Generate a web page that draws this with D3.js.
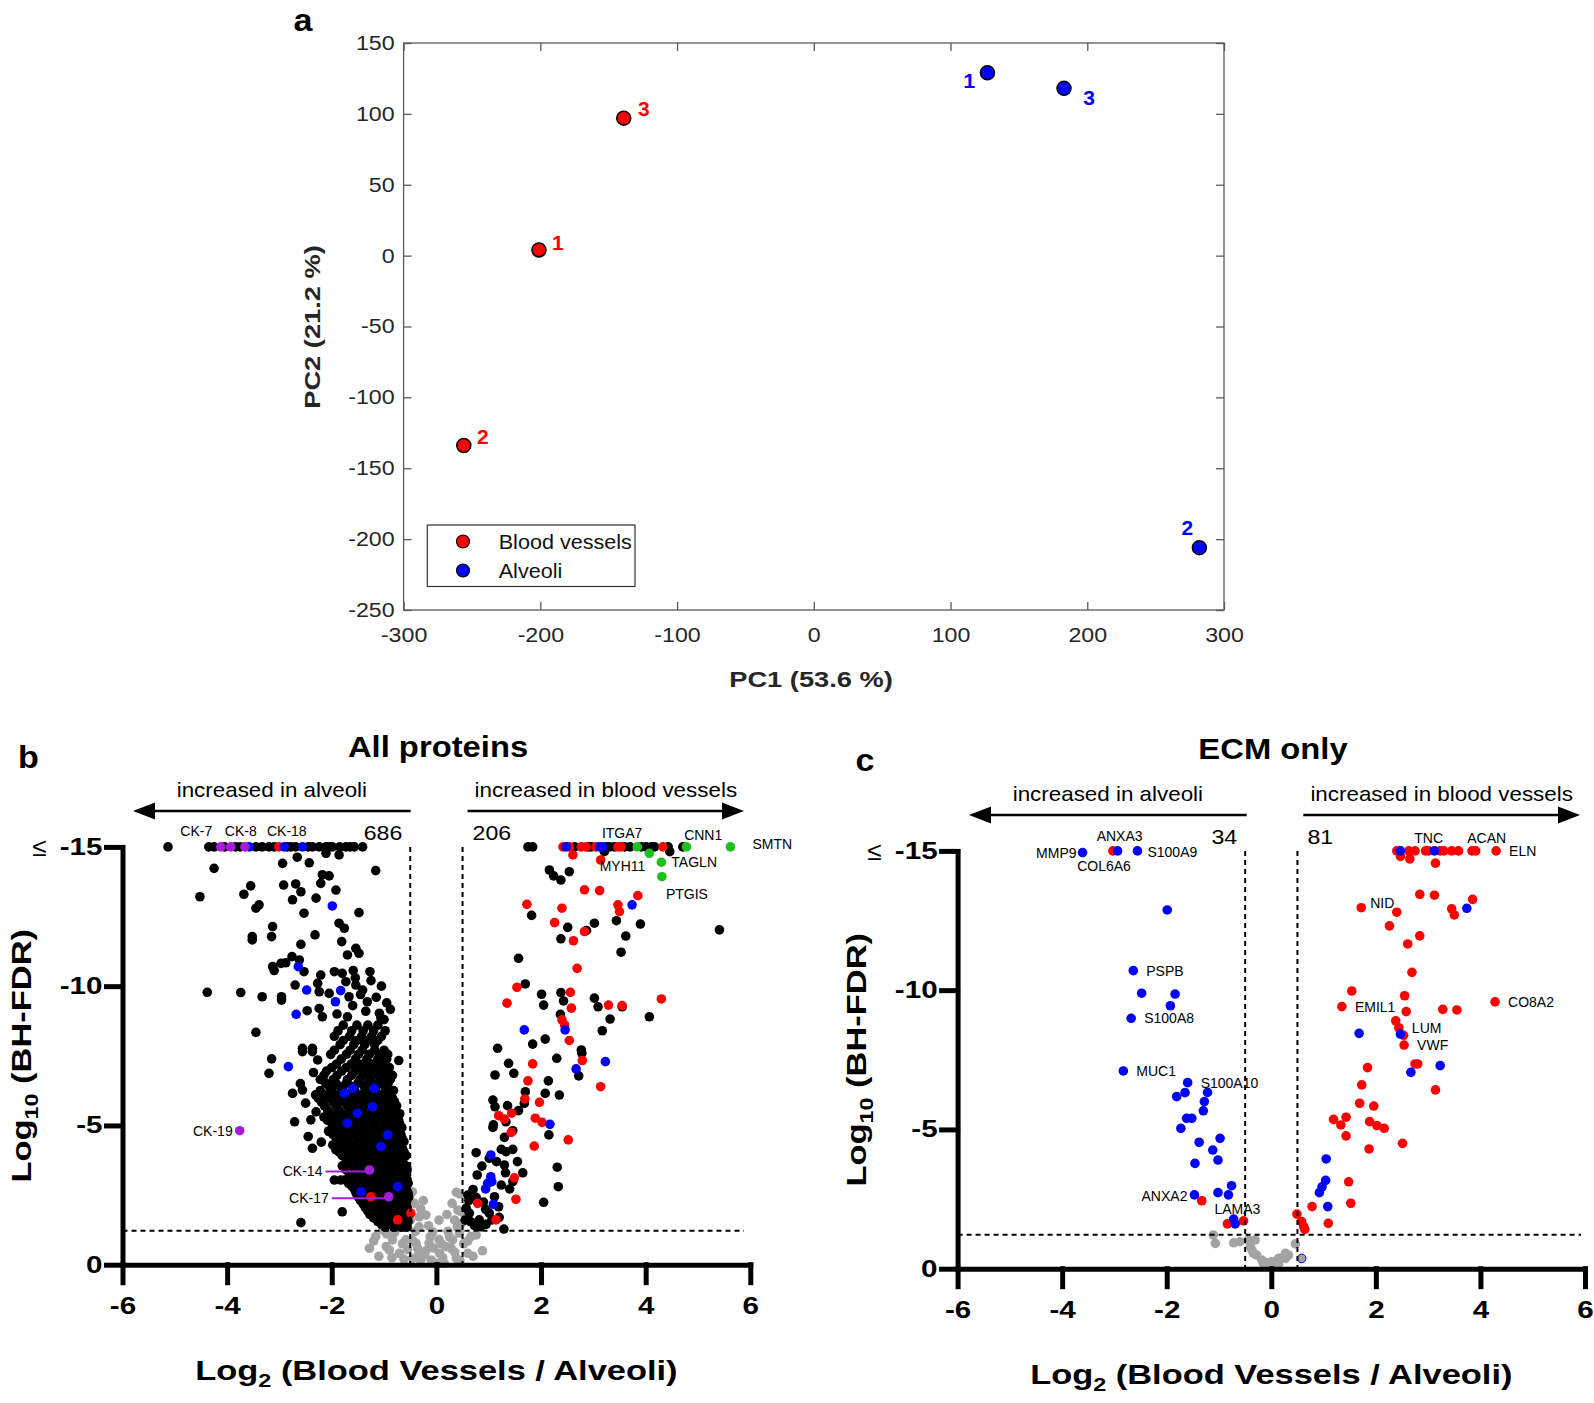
<!DOCTYPE html>
<html>
<head>
<meta charset="utf-8">
<script src="https://cdn.jsdelivr.net/npm/d3@7"></script>
<style>
  body { margin: 0; background: #fff; }
  svg { display: block; font-family: "Liberation Sans", Arial, sans-serif; }
</style>
</head>
<body>
<script>
// ---------- panel a : PCA ----------
const pcaGroup = ["Blood vessels", "Blood vessels", "Blood vessels", "Alveoli", "Alveoli", "Alveoli"];
const pcaName = ["1", "2", "3", "1", "2", "3"];
const pc1 = [-201, -256, -139, 127, 282, 183];
const pc2 = [4, -134, 97, 129, -206, 118];
const pcaXTicks = [-300, -200, -100, 0, 100, 200, 300];
const pcaYTicks = [150, 100, 50, 0, -50, -100, -150, -200, -250];

// ---------- panel b : all proteins (log2 ratio, log10 FDR) ----------
const bGray = [
  [0.44,-2.54],[0.41,-1.96],[0.47,-1.46],[0.44,-1.13],[0.66,-1.01],[0.60,-0.41],[0.31,-0.89],[0.18,-0.65],
  [0.06,-0.41],[-0.10,-0.17],[-0.01,-0.05],[-0.23,-0.35],[-0.36,-0.59],[-0.46,-0.89],[-0.58,-1.36],[-0.49,-2.56],
  [-0.33,-1.72],[-0.20,-1.78],[0.28,-0.59],[0.38,-0.23],[0.76,-1.07],[-0.46,-2.62],[-0.33,-1.36],[-0.07,-1.18],
  [-1.16,-1.01],[-1.28,-0.59],[-0.96,-0.65],[-0.71,-0.41],[-0.58,-0.89],[-0.84,-0.89],[-0.39,-0.77],[-0.14,-0.77],
  [-0.46,-0.23],[-1.03,-1.25],[-0.71,-1.36],[-0.90,-0.53],[-0.33,-0.41],[-0.52,-1.85],[-0.68,-2.08],[0.12,-0.25],
  [0.22,-1.20],[0.35,-1.60],[0.52,-0.75],[-0.12,-1.00],[-0.62,-0.20],[-0.80,-1.15],[0.05,-0.90],[0.30,-2.20],
  [-0.25,-2.30],[0.15,-0.05],[-0.05,-0.60],[0.48,-1.90],[-1.10,-0.30],[0.88,-0.50],[-0.55,-0.55],
  [-0.30,-0.15],[-0.20,-0.50],[0.10,-0.75],[0.25,-1.00],[0.35,-0.45],[-0.40,-1.20],[-0.15,-1.40],[0.40,-1.35],
  [-0.85,-0.25],[-0.65,-0.75],[0.60,-0.85],[-1.20,-0.85],[0.70,-0.30],[-0.50,-1.60],[0.45,-0.15],[-0.95,-1.10],
  [0.05,-1.60],[-0.30,-2.00],[0.20,-1.80],[0.38,-2.60],[-0.42,-2.20]
];
const bBlack = [
  [-5.13,-15],[-4.35,-15],[-4.25,-15],[-4.05,-15],[-3.84,-15],[-3.75,-15],[-3.45,-15],[-3.33,-15],[-3.20,-15],
  [-3.10,-15],[-2.85,-15],[-2.78,-15],[-2.69,-15],[-2.45,-15],[-2.37,-15],[-2.24,-15],[-2.11,-15],[-2.05,-15],
  [-1.99,-15],[-1.85,-15],[-1.73,-15],[-1.65,-15],[-1.57,-15],[-1.41,-15],
  [-2.94,-14.41],[-2.66,-14.63],[-2.43,-14.43],[-2.11,-14.77],[-1.86,-14.71],[-4.25,-14.23],[-1.16,-14.15],
  [-2.18,-14.00],[-2.05,-13.96],[-2.21,-13.69],[-3.55,-13.60],[-2.92,-13.63],[-2.69,-13.67],[-2.59,-13.39],
  [-1.92,-13.45],[-3.68,-13.30],[-4.52,-13.21],[-2.75,-13.10],[-2.30,-13.16],[-3.39,-12.92],[-3.45,-12.80],
  [-2.53,-12.62],[-1.48,-12.64],[-3.13,-12.14],[-1.86,-12.26],[-1.76,-12.08],[-3.52,-11.78],[-3.52,-11.66],
  [-3.15,-11.78],[-2.32,-11.84],[-2.59,-11.50],[-1.81,-11.60],[-1.54,-11.36],[-1.70,-11.12],[-1.48,-11.18],
  [-2.76,-11.06],[-2.62,-10.94],[-3.13,-10.70],[-3.10,-10.56],[-2.97,-10.82],[-2.88,-10.84],[-2.53,-10.52],
  [-2.21,-10.40],[-1.95,-10.52],[-1.80,-10.46],[-1.59,-10.56],[-1.27,-10.52],[-2.70,-10.04],[-2.27,-10.10],
  [-2.24,-9.80],[-2.05,-9.74],[-1.73,-10.16],[-1.54,-10.04],[-1.67,-9.62],[-1.41,-9.86],[-1.32,-9.44],
  [-4.38,-9.78],[-3.74,-9.77],[-3.33,-9.62],[-2.96,-9.62],[-2.96,-9.50],[-2.47,-9.12],[-2.24,-9.20],[-2.18,-8.90],
  [-0.88,-9.17],[-1.09,-9.03],[-1.06,-8.85],[-3.45,-8.34],[-2.56,-7.77],[-2.37,-7.77],
  [-1.60,-9.30],[-1.35,-9.10],[-1.15,-9.60],[-1.90,-9.00],[-1.00,-8.80],[-1.70,-8.90],[-1.45,-9.70],[-1.25,-10.20],
  [-1.05,-10.00],[-1.55,-10.30],[-0.95,-9.40],
  [-3.15,-7.39],[-3.20,-6.87],[-2.56,-7.65],[-2.37,-7.65],[-2.27,-7.35],[-0.72,-7.33],[-2.75,-6.15],[-2.56,-6.27],
  [-2.30,-5.49],[-2.71,-5.13],[-2.37,-4.18],[-2.59,-1.51],[-1.95,-3.04],[-1.83,-3.04],[-1.80,-1.90],[-2.05,-4.78],
  [-1.92,-4.12],[-1.73,-3.94],
  [-2.40,-5.20],[-2.45,-4.60],[-2.50,-5.80],[-2.60,-6.50],[-2.35,-6.90],[-2.20,-4.40],
  [-1.78,-8.60],[-1.52,-8.60],[-1.31,-8.60],[-1.12,-8.60],
  [-1.88,-8.40],[-1.62,-8.40],[-1.40,-8.40],[-1.20,-8.40],[-0.98,-8.40],
  [-1.95,-8.20],[-1.66,-8.20],[-1.43,-8.20],[-1.24,-8.20],[-1.05,-8.20],
  [-1.78,-8.05],[-1.52,-8.05],[-1.32,-8.05],[-1.12,-8.05],
  [-1.84,-7.90],[-1.58,-7.90],[-1.37,-7.90],[-1.18,-7.90],
  [-1.95,-7.70],[-1.65,-7.70],[-1.42,-7.70],[-1.18,-7.70],[-1.00,-7.70],
  [-2.02,-7.55],[-1.72,-7.55],[-1.49,-7.55],[-1.28,-7.55],[-1.09,-7.55],[-0.93,-7.55],
  [-1.82,-7.38],[-1.55,-7.38],[-1.33,-7.38],[-1.12,-7.38],[-0.95,-7.38],
  [-1.91,-7.20],[-1.63,-7.20],[-1.41,-7.20],[-1.22,-7.20],[-1.03,-7.20],
  [-2.00,-7.08],[-1.72,-7.08],[-1.48,-7.08],[-1.28,-7.08],[-1.08,-7.08],[-0.90,-7.08],
  [-2.10,-6.95],[-1.81,-6.95],[-1.55,-6.95],[-1.33,-6.95],[-1.14,-6.95],[-0.97,-6.95],
  [-2.15,-6.80],[-1.90,-6.80],[-1.62,-6.80],[-1.40,-6.80],[-1.20,-6.80],[-1.00,-6.80],[-0.84,-6.80],
  [-2.22,-6.65],[-1.97,-6.65],[-1.70,-6.65],[-1.46,-6.65],[-1.26,-6.65],[-1.06,-6.65],[-0.88,-6.65],
  [-2.12,-6.52],[-1.92,-6.52],[-1.72,-6.52],[-1.50,-6.52],[-1.30,-6.52],[-1.10,-6.52],[-0.92,-6.52],
  [-2.05,-6.40],[-1.84,-6.40],[-1.60,-6.40],[-1.38,-6.40],[-1.17,-6.40],[-0.99,-6.40],
  [-2.22,-6.25],[-2.00,-6.25],[-1.78,-6.25],[-1.56,-6.25],[-1.36,-6.25],[-1.16,-6.25],[-0.96,-6.25],[-0.82,-6.25],
  [-2.31,-6.10],[-2.12,-6.10],[-1.90,-6.10],[-1.68,-6.10],[-1.47,-6.10],[-1.27,-6.10],[-1.08,-6.10],[-0.90,-6.10],
  [-2.26,-5.98],[-2.05,-5.98],[-1.85,-5.98],[-1.62,-5.98],[-1.42,-5.98],[-1.20,-5.98],[-1.00,-5.98],[-0.84,-5.98],
  [-2.20,-5.85],[-1.98,-5.85],[-1.77,-5.85],[-1.55,-5.85],[-1.35,-5.85],[-1.15,-5.85],[-0.96,-5.85],[-0.80,-5.85],
  [-2.14,-5.70],[-1.92,-5.70],[-1.70,-5.70],[-1.50,-5.70],[-1.28,-5.70],[-1.08,-5.70],[-0.90,-5.70],[-0.76,-5.70],
  [-2.08,-5.55],[-1.86,-5.55],[-1.64,-5.55],[-1.43,-5.55],[-1.22,-5.55],[-1.03,-5.55],[-0.86,-5.55],
  [-2.02,-5.42],[-1.80,-5.42],[-1.60,-5.42],[-1.38,-5.42],[-1.18,-5.42],[-0.98,-5.42],[-0.82,-5.42],[-0.70,-5.42],
  [-2.15,-5.30],[-1.93,-5.30],[-1.72,-5.30],[-1.51,-5.30],[-1.30,-5.30],[-1.11,-5.30],[-0.92,-5.30],[-0.76,-5.30],
  [-2.08,-5.18],[-1.86,-5.18],[-1.66,-5.18],[-1.45,-5.18],[-1.24,-5.18],[-1.05,-5.18],[-0.87,-5.18],[-0.72,-5.18],
  [-1.99,-5.05],[-1.79,-5.05],[-1.58,-5.05],[-1.38,-5.05],[-1.18,-5.05],[-0.99,-5.05],[-0.82,-5.05],[-0.70,-5.05],
  [-1.94,-4.92],[-1.74,-4.92],[-1.54,-4.92],[-1.34,-4.92],[-1.15,-4.92],[-0.96,-4.92],[-0.79,-4.92],[-0.66,-4.92],
  [-2.06,-4.80],[-1.85,-4.80],[-1.65,-4.80],[-1.45,-4.80],[-1.25,-4.80],[-1.06,-4.80],[-0.88,-4.80],[-0.72,-4.80],
  [-1.98,-4.68],[-1.78,-4.68],[-1.58,-4.68],[-1.38,-4.68],[-1.18,-4.68],[-1.00,-4.68],[-0.83,-4.68],[-0.68,-4.68],
  [-1.92,-4.55],[-1.72,-4.55],[-1.52,-4.55],[-1.32,-4.55],[-1.13,-4.55],[-0.95,-4.55],[-0.78,-4.55],[-0.66,-4.55],
  [-1.88,-4.42],[-1.68,-4.42],[-1.48,-4.42],[-1.28,-4.42],[-1.10,-4.42],[-0.92,-4.42],[-0.75,-4.42],[-0.62,-4.42],
  [-1.98,-4.30],[-1.79,-4.30],[-1.59,-4.30],[-1.40,-4.30],[-1.20,-4.30],[-1.02,-4.30],[-0.85,-4.30],[-0.69,-4.30],
  [-1.92,-4.18],[-1.72,-4.18],[-1.52,-4.18],[-1.33,-4.18],[-1.15,-4.18],[-0.97,-4.18],[-0.80,-4.18],[-0.65,-4.18],
  [-1.86,-4.05],[-1.66,-4.05],[-1.47,-4.05],[-1.27,-4.05],[-1.09,-4.05],[-0.91,-4.05],[-0.75,-4.05],[-0.62,-4.05],
  [-1.80,-3.92],[-1.60,-3.92],[-1.40,-3.92],[-1.21,-3.92],[-1.03,-3.92],[-0.86,-3.92],[-0.70,-3.92],[-0.58,-3.92],
  [-1.73,-3.80],[-1.54,-3.80],[-1.34,-3.80],[-1.16,-3.80],[-0.98,-3.80],[-0.81,-3.80],[-0.66,-3.80],
  [-1.70,-3.68],[-1.50,-3.68],[-1.30,-3.68],[-1.12,-3.68],[-0.94,-3.68],[-0.78,-3.68],[-0.64,-3.68],
  [-1.80,-3.55],[-1.60,-3.55],[-1.41,-3.55],[-1.22,-3.55],[-1.04,-3.55],[-0.87,-3.55],[-0.71,-3.55],[-0.58,-3.55],
  [-1.74,-3.42],[-1.54,-3.42],[-1.35,-3.42],[-1.16,-3.42],[-0.99,-3.42],[-0.82,-3.42],[-0.67,-3.42],[-0.56,-3.42],
  [-1.67,-3.30],[-1.47,-3.30],[-1.29,-3.30],[-1.11,-3.30],[-0.94,-3.30],[-0.77,-3.30],[-0.63,-3.30],
  [-1.62,-3.18],[-1.42,-3.18],[-1.24,-3.18],[-1.06,-3.18],[-0.89,-3.18],[-0.73,-3.18],[-0.60,-3.18],
  [-1.74,-3.05],[-1.54,-3.05],[-1.35,-3.05],[-1.17,-3.05],[-1.00,-3.05],[-0.83,-3.05],[-0.68,-3.05],[-0.56,-3.05],
  [-1.68,-2.92],[-1.48,-2.92],[-1.30,-2.92],[-1.12,-2.92],[-0.95,-2.92],[-0.78,-2.92],[-0.64,-2.92],[-0.54,-2.92],
  [-1.61,-2.80],[-1.42,-2.80],[-1.24,-2.80],[-1.06,-2.80],[-0.89,-2.80],[-0.73,-2.80],[-0.60,-2.80],
  [-1.56,-2.68],[-1.37,-2.68],[-1.19,-2.68],[-1.01,-2.68],[-0.84,-2.68],[-0.69,-2.68],[-0.57,-2.68],
  [-1.53,-2.55],[-1.34,-2.55],[-1.15,-2.55],[-0.97,-2.55],[-0.80,-2.55],[-0.65,-2.55],[-0.54,-2.55],
  [-1.49,-2.42],[-1.30,-2.42],[-1.11,-2.42],[-0.94,-2.42],[-0.77,-2.42],[-0.63,-2.42],[-0.53,-2.42],
  [-1.45,-2.30],[-1.26,-2.30],[-1.07,-2.30],[-0.90,-2.30],[-0.74,-2.30],[-0.60,-2.30],
  [-1.40,-2.18],[-1.21,-2.18],[-1.03,-2.18],[-0.86,-2.18],[-0.71,-2.18],[-0.58,-2.18],
  [-1.36,-2.05],[-1.17,-2.05],[-0.99,-2.05],[-0.83,-2.05],[-0.68,-2.05],[-0.56,-2.05],
  [-1.31,-1.92],[-1.12,-1.92],[-0.95,-1.92],[-0.79,-1.92],[-0.65,-1.92],[-0.54,-1.92],
  [-1.27,-1.80],[-1.08,-1.80],[-0.91,-1.80],[-0.76,-1.80],[-0.62,-1.80],[-0.52,-1.80],
  [-1.20,-1.68],[-1.01,-1.68],[-0.85,-1.68],[-0.70,-1.68],[-0.57,-1.68],
  [-1.12,-1.55],[-0.94,-1.55],[-0.79,-1.55],[-0.65,-1.55],[-0.54,-1.55],
  [-1.05,-1.45],[-0.88,-1.45],[-0.72,-1.45],[-0.60,-1.45],
  [-0.98,-1.35],[-0.82,-1.35],[-0.68,-1.35],[-0.56,-1.35],
  [1.75,-15],[1.84,-15],[2.64,-15],[2.90,-15],[2.96,-15],[3.25,-15],[3.31,-15],[3.40,-15],[3.60,-15],[3.70,-15],
  [3.92,-15],[4.01,-15],[4.11,-15],[4.17,-15],[4.43,-15],[4.71,-15],
  [3.21,-14.83],[4.46,-14.83],[2.16,-14.17],[2.24,-13.96],[2.38,-13.81],[2.54,-14.11],[1.82,-12.54],[2.51,-12.11],
  [3.02,-12.26],[3.44,-12.35],[3.90,-12.23],[2.87,-12.00],[2.38,-11.70],[3.62,-11.80],[5.41,-12.02],[3.53,-11.22],
  [1.57,-11.00],[1.70,-10.08],[2.01,-9.71],[2.38,-9.77],[2.05,-9.32],[2.43,-9.47],[3.02,-9.57],[3.09,-9.26],
  [3.55,-9.26],[2.37,-8.99],[3.32,-8.82],[4.07,-8.90],[3.17,-8.40],[2.08,-8.10],[1.84,-7.92],[1.17,-7.77],[2.77,-7.71],
  [1.38,-7.23],[1.48,-6.87],[1.12,-6.81],[2.30,-7.41],[2.78,-7.59],[2.72,-6.78],[2.14,-6.60],[1.70,-6.21],
  [1.68,-5.79],[2.08,-6.15],[2.35,-6.09],[1.08,-5.91],[1.12,-5.67],[1.36,-5.71],[1.57,-5.53],[1.33,-5.13],
  [1.09,-5.02],[1.08,-4.93],[1.46,-4.81],[2.15,-4.66],[1.30,-4.57],[0.76,-4.02],[1.24,-4.14],[1.33,-4.06],
  [1.46,-4.14],[1.01,-3.82],[0.87,-3.54],[1.15,-3.70],[1.30,-3.58],[1.32,-3.30],[1.55,-3.70],[1.65,-3.30],
  [2.31,-3.50],[0.78,-3.22],[1.24,-2.86],[1.46,-2.98],[1.40,-2.72],[2.33,-2.80],[2.05,-2.24],[0.60,-2.50],
  [0.76,-2.42],[1.11,-2.44],[1.19,-2.08],[0.94,-1.99],[1.01,-1.85],[1.06,-1.61],[0.57,-2.03],[0.63,-1.85],
  [0.66,-1.54],[0.82,-1.61],[0.73,-1.40],[0.85,-1.36],[1.29,-1.28],[0.70,-2.70],[0.90,-2.25],[1.20,-1.70],
  [0.55,-1.60],[0.95,-1.45],[0.62,-2.30]
];
const bRed = [
  [-3.01,-15],[-1.25,-2.44],[-0.74,-1.61],[-0.49,-1.85],
  [2.42,-15],[2.54,-15],[2.77,-15],[2.86,-15],[3.05,-15],[3.47,-15],[3.53,-15],[4.33,-15],[2.61,-14.71],
  [3.14,-14.53],[2.83,-13.46],[3.12,-13.43],[3.85,-13.25],[3.47,-12.92],[3.50,-12.68],[1.73,-12.94],[2.40,-12.80],
  [2.26,-12.28],[2.83,-11.96],[2.62,-11.63],[2.69,-10.64],[1.54,-9.96],[2.56,-9.78],[1.35,-9.39],[2.58,-9.21],
  [3.29,-9.32],[3.55,-9.30],[4.30,-9.54],[2.40,-8.79],[2.45,-8.61],[2.54,-8.05],[1.84,-7.21],[2.79,-7.33],
  [3.14,-6.39],[1.75,-6.60],[1.69,-5.95],[1.97,-5.83],[1.19,-5.35],[1.44,-5.44],[1.30,-5.23],[1.89,-5.26],
  [2.02,-5.11],[1.43,-4.75],[2.52,-4.48],[1.87,-4.26],[1.49,-3.12],[1.52,-2.35],[0.79,-2.20],[1.14,-1.61]
];
const bBlue = [
  [-3.58,-15],[-2.91,-15],[-2.56,-15],[-1.99,-12.88],[-2.64,-10.70],[-2.48,-9.86],[-1.83,-9.84],[-1.93,-9.44],
  [-2.68,-8.99],[-2.83,-7.11],[-1.76,-6.15],[-1.60,-6.33],[-1.19,-6.33],[-1.51,-5.44],[-1.70,-5.08],[-0.93,-4.66],
  [-1.06,-4.24],[-1.44,-2.62],[-1.22,-5.67],[-0.74,-2.80],
  [2.48,-15],[3.12,-15],[3.18,-15],[3.74,-12.92],[1.68,-8.43],[2.46,-8.43],[2.67,-7.03],[3.23,-7.29],[2.17,-5.04],
  [1.04,-3.94],[1.04,-3.16],[1.06,-2.98],[0.98,-2.92],[0.94,-2.72],[1.09,-2.17]
];
const bPurple = [[-4.12,-15],[-3.93,-15],[-3.66,-15],[-3.76,-4.81],[-1.28,-3.40],[-0.91,-2.44]];
const bGreen = [[3.84,-15],[4.78,-15],[5.62,-15],[4.07,-14.77],[4.30,-14.45],[4.31,-13.93]];

// ---------- panel c : ECM only ----------
const cGray = [
  [-1.11,-1.21],[-1.07,-0.91],[-0.72,-0.93],[-0.60,-0.97],[-0.44,-1.03],[-0.37,-0.67],[-0.28,-0.49],[-0.15,-0.19],
  [-0.02,-0.07],[0.14,-0.19],[0.27,-0.37],[0.33,-0.49],[0.46,-0.89],[0.27,-0.55],[0.14,-0.37],[0.01,-0.25],
  [-0.09,-0.22],[-0.18,-0.31],[-0.34,-0.55],[-0.40,-0.79],[-0.31,-1.03]
];
const cGrayOutlined = [[0.58,-0.37]];
const cBlue = [
  [-3.61,-14.94],[-2.94,-15],[-2.56,-15],[-1.99,-12.88],[-2.64,-10.70],[-2.48,-9.89],[-1.84,-9.86],[-1.93,-9.44],
  [-2.68,-8.99],[-2.83,-7.10],[-1.60,-6.68],[-1.65,-6.32],[-1.81,-6.18],[-1.22,-6.33],[-1.28,-6.00],[-1.30,-5.67],
  [-1.62,-5.40],[-1.52,-5.40],[-1.73,-5.04],[-1.38,-4.54],[-0.98,-4.68],[-1.12,-4.26],[-1.02,-3.90],[-1.46,-3.78],
  [-0.76,-2.98],[-1.02,-2.73],[-0.82,-2.65],[-1.47,-2.65],[-0.72,-1.78],[-0.69,-1.61],
  [2.47,-15],[3.12,-15],[3.74,-12.94],[1.68,-8.45],[2.47,-8.42],[2.67,-7.05],[3.23,-7.29],[1.05,-3.94],
  [1.04,-3.17],[0.97,-2.94],[0.92,-2.73],[1.08,-2.23]
];
const cRed = [
  [-3.03,-15],[-1.33,-2.44],[-0.84,-1.61],[-0.53,-1.72],
  [2.40,-15],[2.47,-14.80],[2.63,-15],[2.75,-15],[2.95,-15],[3.01,-15],[3.23,-15],[3.30,-15],[3.45,-15],[3.58,-15],
  [3.84,-15],[3.91,-15],[4.30,-15],[2.65,-14.71],[3.14,-14.56],[2.84,-13.44],[3.12,-13.41],[3.85,-13.26],
  [3.45,-12.92],[3.50,-12.70],[1.72,-12.96],[2.40,-12.80],[2.26,-12.31],[2.84,-11.95],[2.61,-11.66],[2.69,-10.64],
  [1.54,-9.97],[2.55,-9.80],[1.35,-9.41],[2.58,-9.23],[3.28,-9.31],[3.55,-9.29],[4.28,-9.58],[2.38,-8.90],
  [2.44,-8.65],[2.53,-8.38],[2.54,-8.03],[2.75,-7.35],[2.80,-7.35],[3.14,-6.42],[1.84,-7.22],[1.73,-6.60],
  [1.69,-5.94],[1.96,-5.84],[1.19,-5.36],[1.33,-5.16],[1.43,-5.44],[1.43,-4.77],[1.88,-5.28],[2.02,-5.14],
  [2.16,-5.04],[2.51,-4.50],[1.87,-4.30],[1.48,-3.12],[1.52,-2.35],[0.78,-2.23],[1.09,-1.63],[0.49,-1.96],
  [0.58,-1.69],[0.62,-1.51],[0.64,-1.41]
];

const volcanoXTicks = [-6, -4, -2, 0, 2, 4, 6];
const volcanoYTicks = [0, -5, -10, -15];
const fdrCut = -1.22;
const fcCut = 0.5;
const countsB = ["686", "206"];
const countsC = ["34", "81"];

// ---------- drawing ----------
const W = 1594, H = 1403;
const svg = d3.select("body").append("svg").attr("width", W).attr("height", H);

const RED = "#ff0000", BLUE = "#0000ff", GRAY = "#a3a3a3", PURPLE = "#a41ed8", GREEN = "#1fbf1f";

function txt(g, x, y, str, o) {
  o = o || {};
  let tr = `translate(${x},${y})`;
  if (o.rot) tr += ` rotate(${o.rot})`;
  if (o.sx) tr += ` scale(${o.sx},1)`;
  return g.append("text")
    .attr("transform", tr)
    .attr("text-anchor", o.anchor || "middle")
    .attr("font-size", o.size || 14)
    .attr("font-weight", o.bold ? "bold" : null)
    .attr("fill", o.fill || "#000")
    .text(str);
}

function stretchTicks(axisG, sx) {
  axisG.selectAll(".tick text").each(function () {
    const t = d3.select(this);
    const x = +t.attr("x") || 0;
    t.attr("x", 0).attr("transform", `translate(${x},0) scale(${sx},1)`);
  });
}

// ---- panel a ----
const xA = d3.scaleLinear().domain([-300, 300]).range([403.6, 1224]);
const yA = d3.scaleLinear().domain([-250, 150]).range([610, 43]);
const gA = svg.append("g");

const axA = [
  gA.append("g").attr("transform", "translate(0,610)")
    .call(d3.axisBottom(xA).tickValues(pcaXTicks).tickSize(-8).tickPadding(18).tickFormat(d => String(d))),
  gA.append("g").attr("transform", "translate(403.6,0)")
    .call(d3.axisLeft(yA).tickValues(pcaYTicks).tickSize(-8).tickPadding(9).tickFormat(d => String(d))),
  gA.append("g").attr("transform", "translate(0,43)")
    .call(d3.axisTop(xA).tickValues(pcaXTicks).tickSize(-8).tickFormat("")),
  gA.append("g").attr("transform", "translate(1224,0)")
    .call(d3.axisRight(yA).tickValues(pcaYTicks).tickSize(-8).tickFormat(""))
];
axA.forEach(a => {
  a.select(".domain").remove();
  a.selectAll("line").attr("stroke", "#5a5a5a").attr("stroke-width", 1.3);
  a.selectAll("text").attr("font-size", 20).attr("fill", "#262626")
    .attr("font-family", "'Liberation Sans', Arial, sans-serif");
  stretchTicks(a, 1.16);
});
gA.append("rect").attr("x", 403.6).attr("y", 43).attr("width", 1224 - 403.6).attr("height", 610 - 43)
  .attr("fill", "none").attr("stroke", "#5a5a5a").attr("stroke-width", 1.3);

const pcaData = pc1.map((v, i) => ({ x: v, y: pc2[i], g: pcaGroup[i], n: pcaName[i] }));
gA.selectAll("circle.pca").data(pcaData).enter().append("circle")
  .attr("class", "pca")
  .attr("cx", d => xA(d.x)).attr("cy", d => yA(d.y)).attr("r", 7)
  .attr("fill", d => d.g === "Alveoli" ? BLUE : RED)
  .attr("stroke", "#000").attr("stroke-width", 1.5);

// label placement, pixels from the point
const pcaLabelOffset = { "Blood vessels1": [19, -7], "Blood vessels2": [19, -9], "Blood vessels3": [20, -10],
  "Alveoli1": [-18, 8], "Alveoli2": [-12, -20], "Alveoli3": [25, 9] };
pcaData.forEach(d => {
  const off = pcaLabelOffset[d.g + d.n];
  txt(gA, xA(d.x) + off[0], yA(d.y) + off[1] + 7.5, d.n,
    { size: 21, bold: true, fill: d.g === "Alveoli" ? BLUE : RED });
});

// legend
gA.append("rect").attr("x", 427.3).attr("y", 525).attr("width", 207.7).attr("height", 61.5)
  .attr("fill", "#fff").attr("stroke", "#333").attr("stroke-width", 1.2);
[["Blood vessels", RED, 541.5], ["Alveoli", BLUE, 570.5]].forEach(([lab, col, cy]) => {
  gA.append("circle").attr("cx", 463).attr("cy", cy).attr("r", 6.5).attr("fill", col)
    .attr("stroke", "#000").attr("stroke-width", 1.2);
  txt(gA, 498.7, cy + 7.5, lab, { size: 20, anchor: "start", sx: 1.08, fill: "#111" });
});

txt(gA, 811, 687, "PC1 (53.6 %)", { size: 22.7, bold: true, sx: 1.2, fill: "#262626" });
txt(gA, 320, 327, "PC2 (21.2 %)", { size: 22.7, bold: true, sx: 1.2, rot: -90, fill: "#262626" });
txt(svg, 303, 31, "a", { size: 31, bold: true, sx: 1.1 });

// ---- volcano helper ----
function volcano(o) {
  const g = svg.append("g");
  const x = d3.scaleLinear().domain([-6, 6]).range(o.xr);
  const y = d3.scaleLinear().domain([0, -15]).range(o.yr);

  const dot = (data, fill, r, stroke) => g.append("g").selectAll("circle").data(data).enter().append("circle")
    .attr("cx", d => x(d[0])).attr("cy", d => y(d[1])).attr("r", r || 4.8)
    .attr("fill", fill).attr("stroke", stroke || "none").attr("stroke-width", stroke ? 1 : null);
  o.layers.forEach(l => dot(l.data, l.fill, l.r, l.stroke));

  // threshold lines
  const dash = "5,4";
  [-fcCut, fcCut].forEach(v => g.append("line")
    .attr("x1", x(v)).attr("x2", x(v)).attr("y1", y(-15)).attr("y2", y(0))
    .attr("stroke", "#000").attr("stroke-width", 2).attr("stroke-dasharray", dash));
  g.append("line").attr("x1", x(-6)).attr("x2", o.hEnd).attr("y1", y(fdrCut)).attr("y2", y(fdrCut))
    .attr("stroke", "#000").attr("stroke-width", 2).attr("stroke-dasharray", dash);

  // axes
  const ax = g.append("g").attr("transform", `translate(0,${o.yr[0]})`)
    .call(d3.axisBottom(x).tickValues(volcanoXTicks).tickSize(18).tickPadding(15).tickSizeOuter(0)
      .tickFormat(d => String(d)));
  const ay = g.append("g").attr("transform", `translate(${o.xr[0]},0)`)
    .call(d3.axisLeft(y).tickValues(volcanoYTicks).tickSize(16).tickPadding(4).tickSizeOuter(0)
      .tickFormat(d => String(d)));
  [ax, ay].forEach(a => {
    a.selectAll("path, line").attr("stroke", "#000").attr("stroke-width", 5).attr("stroke-linecap", "square");
    a.selectAll("text").attr("font-size", 23.5).attr("font-weight", "bold").attr("fill", "#000")
      .attr("font-family", "'Liberation Sans', Arial, sans-serif");
    stretchTicks(a, 1.26);
  });
  txt(ay, -76, y(-15) + 9, "\u2264", { size: 26, anchor: "end" });

  // titles and arrows
  txt(svg, o.titleX, o.titleY, o.title, { size: 29, bold: true, sx: 1.13 });
  txt(svg, o.letter[0], o.letter[1], o.letter[2], { size: 31, bold: true, sx: 1.1 });

  const ar = o.arrowY;
  g.append("line").attr("x1", o.arrowL[0]).attr("x2", o.arrowL[1] + 20).attr("y1", ar).attr("y2", ar)
    .attr("stroke", "#000").attr("stroke-width", 2.5);
  g.append("path").attr("d", `M${o.arrowL[1]},${ar}L${o.arrowL[1] + 22},${ar - 8.5}L${o.arrowL[1] + 22},${ar + 8.5}Z`);
  g.append("line").attr("x1", o.arrowR[0]).attr("x2", o.arrowR[1] - 20).attr("y1", ar).attr("y2", ar)
    .attr("stroke", "#000").attr("stroke-width", 2.5);
  g.append("path").attr("d", `M${o.arrowR[1]},${ar}L${o.arrowR[1] - 22},${ar - 8.5}L${o.arrowR[1] - 22},${ar + 8.5}Z`);
  txt(g, (o.arrowL[0] + o.arrowL[1]) / 2, ar - 14, "increased in alveoli", { size: 20, sx: 1.12 });
  txt(g, (o.arrowR[0] + o.arrowR[1]) / 2, ar - 14, "increased in blood vessels", { size: 20, sx: 1.12 });
  txt(g, x(-fcCut) - 8, y(-15) - 7, o.counts[0], { size: 21, sx: 1.1, anchor: "end" });
  txt(g, x(fcCut) + 10, y(-15) - 7, o.counts[1], { size: 21, sx: 1.1, anchor: "start" });

  // axis titles
  const xt = txt(g, (o.xr[0] + o.xr[1]) / 2, o.yr[0] + 115, "", { size: 28, bold: true, sx: 1.23 });
  xt.append("tspan").text("Log");
  xt.append("tspan").attr("font-size", 19).attr("dy", 7).text("2");
  xt.append("tspan").attr("dy", -7).text(" (Blood Vessels / Alveoli)");
  const yt = txt(g, o.xr[0] - 92, (o.yr[0] + o.yr[1]) / 2, "", { size: 28, bold: true, sx: 1.23, rot: -90 });
  yt.append("tspan").text("Log");
  yt.append("tspan").attr("font-size", 19).attr("dy", 7).text("10");
  yt.append("tspan").attr("dy", -7).text(" (BH-FDR)");

  return { g, x, y };
}

// ---- panel b ----
const B = volcano({
  xr: [122.5, 750.3], yr: [1264.7, 846.9], hEnd: 744,
  layers: [
    { data: bGray, fill: GRAY }, { data: bBlack, fill: "#000" }, { data: bRed, fill: RED },
    { data: bBlue, fill: BLUE }, { data: bPurple, fill: PURPLE }, { data: bGreen, fill: GREEN }
  ],
  title: "All proteins", titleX: 438, titleY: 757, letter: [28.5, 768, "b"],
  arrowY: 811, arrowL: [410.7, 133], arrowR: [467.6, 744], counts: countsB
});

function ptLabel(P, pt, dx, dy, str, anchor) {
  txt(P.g, P.x(pt[0]) + dx, P.y(pt[1]) + dy, str, { size: 14, anchor: anchor || "start" });
}
ptLabel(B, [-4.59, -15], 0, -11, "CK-7", "middle");
ptLabel(B, [-3.74, -15], 0, -11, "CK-8", "middle");
ptLabel(B, [-2.86, -15], 0, -11, "CK-18", "middle");
ptLabel(B, [-3.76, -4.81], -7, 5, "CK-19", "end");
ptLabel(B, [3.55, -15], 0, -9, "ITGA7", "middle");
ptLabel(B, [5.1, -15], 0, -7, "CNN1", "middle");
ptLabel(B, [5.62, -15], 22, 2, "SMTN", "start");
ptLabel(B, [4.07, -14.77], -4, 18, "MYH11", "end");
ptLabel(B, [4.30, -14.45], 10, 5, "TAGLN", "start");
ptLabel(B, [4.31, -13.93], 4, 22, "PTGIS", "start");
// leader lines for CK-14 / CK-17
[[[-1.28, -3.40], "CK-14", 44], [[-0.91, -2.44], "CK-17", 57]].forEach(([pt, lab, len]) => {
  const px = B.x(pt[0]), py = B.y(pt[1]) + 1.5;
  B.g.append("line").attr("x1", px - len).attr("x2", px - 3).attr("y1", py).attr("y2", py)
    .attr("stroke", PURPLE).attr("stroke-width", 2);
  txt(B.g, px - len - 3, py + 5, lab, { size: 14, anchor: "end" });
});

// ---- panel c ----
const C = volcano({
  xr: [957.6, 1585], yr: [1268.7, 850.9], hEnd: 1581,
  layers: [
    { data: cGray, fill: GRAY }, { data: cGrayOutlined, fill: GRAY, stroke: BLUE, r: 4.3 },
    { data: cRed, fill: RED }, { data: cBlue, fill: BLUE }
  ],
  title: "ECM only", titleX: 1273, titleY: 759, letter: [865, 771, "c"],
  arrowY: 815, arrowL: [1246.7, 969], arrowR: [1303.3, 1580], counts: countsC
});
ptLabel(C, [-2.94, -15], 2, -10, "ANXA3", "middle");
ptLabel(C, [-3.61, -14.94], -6, 5, "MMP9", "end");
ptLabel(C, [-3.20, -15], 0, 20, "COL6A6", "middle");
ptLabel(C, [-2.56, -15], 10, 6, "S100A9", "start");
ptLabel(C, [-2.64, -10.70], 13, 5, "PSPB", "start");
ptLabel(C, [-2.68, -8.99], 13, 5, "S100A8", "start");
ptLabel(C, [-2.83, -7.10], 13, 5, "MUC1", "start");
ptLabel(C, [-1.60, -6.68], 13, 5, "S100A10", "start");
ptLabel(C, [-1.47, -2.65], -7, 6, "ANXA2", "end");
ptLabel(C, [-0.84, -1.61], -13, -10, "LAMA3", "start");
ptLabel(C, [3.01, -15], 0, -8, "TNC", "middle");
ptLabel(C, [4.12, -15], 0, -8, "ACAN", "middle");
ptLabel(C, [4.30, -15], 13, 5, "ELN", "start");
ptLabel(C, [1.72, -12.96], 9, 0, "NID", "start");
ptLabel(C, [1.35, -9.41], 13, 5, "EMIL1", "start");
ptLabel(C, [2.44, -8.65], 13, 5, "LUM", "start");
ptLabel(C, [2.54, -8.03], 13, 5, "VWF", "start");
ptLabel(C, [4.28, -9.58], 13, 5, "CO8A2", "start");
</script>
</body>
</html>
